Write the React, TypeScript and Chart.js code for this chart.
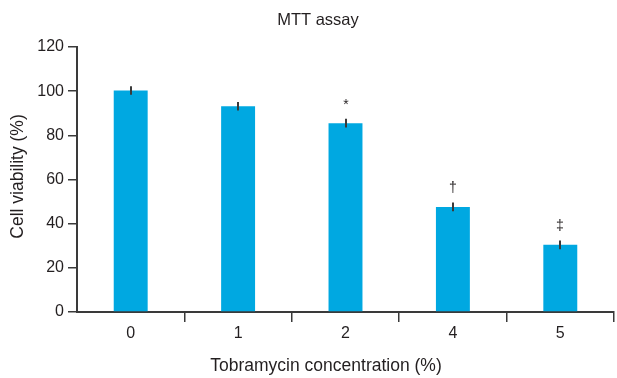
import React, { useEffect, useRef } from "react";
import { Chart, registerables } from "chart.js";

Chart.register(...registerables);

const categories = ["0", "1", "2", "4", "5"];
const viability = [100.3, 93.2, 85.5, 47.6, 30.4];
const errors = [1.9, 1.9, 2.0, 2.0, 2.0];
const marks = ["", "", "*", "†", "‡"];
const yTicks = [0, 20, 40, 60, 80, 100, 120];

const TEXT = "#231f20";
const FONT = "'Liberation Sans', Arial, Helvetica, sans-serif";

const overlay = {
  id: "overlay",
  afterDatasetsDraw(chart: any) {
    const { ctx, chartArea } = chart;
    const meta = chart.getDatasetMeta(0);
    const y = chart.scales.y;
    ctx.save();
    ctx.strokeStyle = "#3a3a3a";
    ctx.lineWidth = 2;
    meta.data.forEach((bar: any, i: number) => {
      const x = Math.round(bar.x);
      const top = y.getPixelForValue(viability[i] + errors[i]);
      const bot = y.getPixelForValue(viability[i] - errors[i]);
      ctx.beginPath();
      ctx.moveTo(x, top);
      ctx.lineTo(x, bot);
      ctx.stroke();
      if (marks[i]) {
        ctx.fillStyle = TEXT;
        ctx.font = `14px ${FONT}`;
        ctx.textAlign = "center";
        ctx.textBaseline = "middle";
        ctx.fillText(marks[i], x, top - 14);
      }
    });
    // titles
    ctx.fillStyle = TEXT;
    ctx.textAlign = "center";
    ctx.textBaseline = "middle";
    ctx.font = `16.5px ${FONT}`;
    ctx.fillText("MTT assay", chartArea.left + 241, 20);
    ctx.font = `17.5px ${FONT}`;
    ctx.fillText("Tobramycin concentration (%)", chartArea.left + 249, 366);
    ctx.save();
    ctx.translate(18, (chartArea.top + chartArea.bottom) / 2 - 3);
    ctx.rotate(-Math.PI / 2);
    ctx.fillText("Cell viability (%)", 0, 0);
    ctx.restore();
    ctx.restore();
  },
};

export default function App() {
  const ref = useRef<HTMLCanvasElement>(null);
  useEffect(() => {
    if (!ref.current) return;
    const chart = new Chart(ref.current, {
      type: "bar",
      data: {
        labels: categories,
        datasets: [
          {
            data: viability,
            backgroundColor: "#00a8e1",
            borderWidth: 0,
            categoryPercentage: 1,
            barPercentage: 0.316,
          },
        ],
      },
      options: {
        animation: false,
        responsive: true,
        maintainAspectRatio: false,
        layout: { padding: { top: 47, right: 3, left: 0, bottom: 0 } },
        plugins: {
          legend: { display: false },
          tooltip: { enabled: false },
          title: { display: false },
        },
        scales: {
          x: {
            grid: {
              offset: true,
              drawOnChartArea: false,
              drawTicks: true,
              tickLength: 10,
              lineWidth: 1.5,
              color: (c: any) => (c.index === 0 ? "rgba(0,0,0,0)" : "#3a3a3a"),
            },
            border: { display: true, color: "#3a3a3a", width: 2 },
            ticks: {
              color: TEXT,
              font: { family: FONT, size: 16 },
              padding: 2,
            },
            afterFit: (s: any) => {
              s.height = 66;
            },
          },
          y: {
            min: 0,
            max: 120,
            afterBuildTicks: (s: any) => {
              s.ticks = yTicks.map((v) => ({ value: v }));
            },
            grid: {
              drawOnChartArea: false,
              drawTicks: true,
              tickLength: 9,
              lineWidth: 1.5,
              color: "#3a3a3a",
            },
            border: { display: true, color: "#3a3a3a", width: 2 },
            ticks: {
              color: TEXT,
              font: { family: FONT, size: 16 },
              padding: 4,
            },
            afterFit: (s: any) => {
              s.width = 77;
            },
          },
        },
      },
      plugins: [overlay],
    });
    return () => chart.destroy();
  }, []);
  return (
    <div style={{ position: "fixed", left: 0, top: 0, width: 617, height: 378, background: "#fff" }}>
      <canvas ref={ref} />
    </div>
  );
}
